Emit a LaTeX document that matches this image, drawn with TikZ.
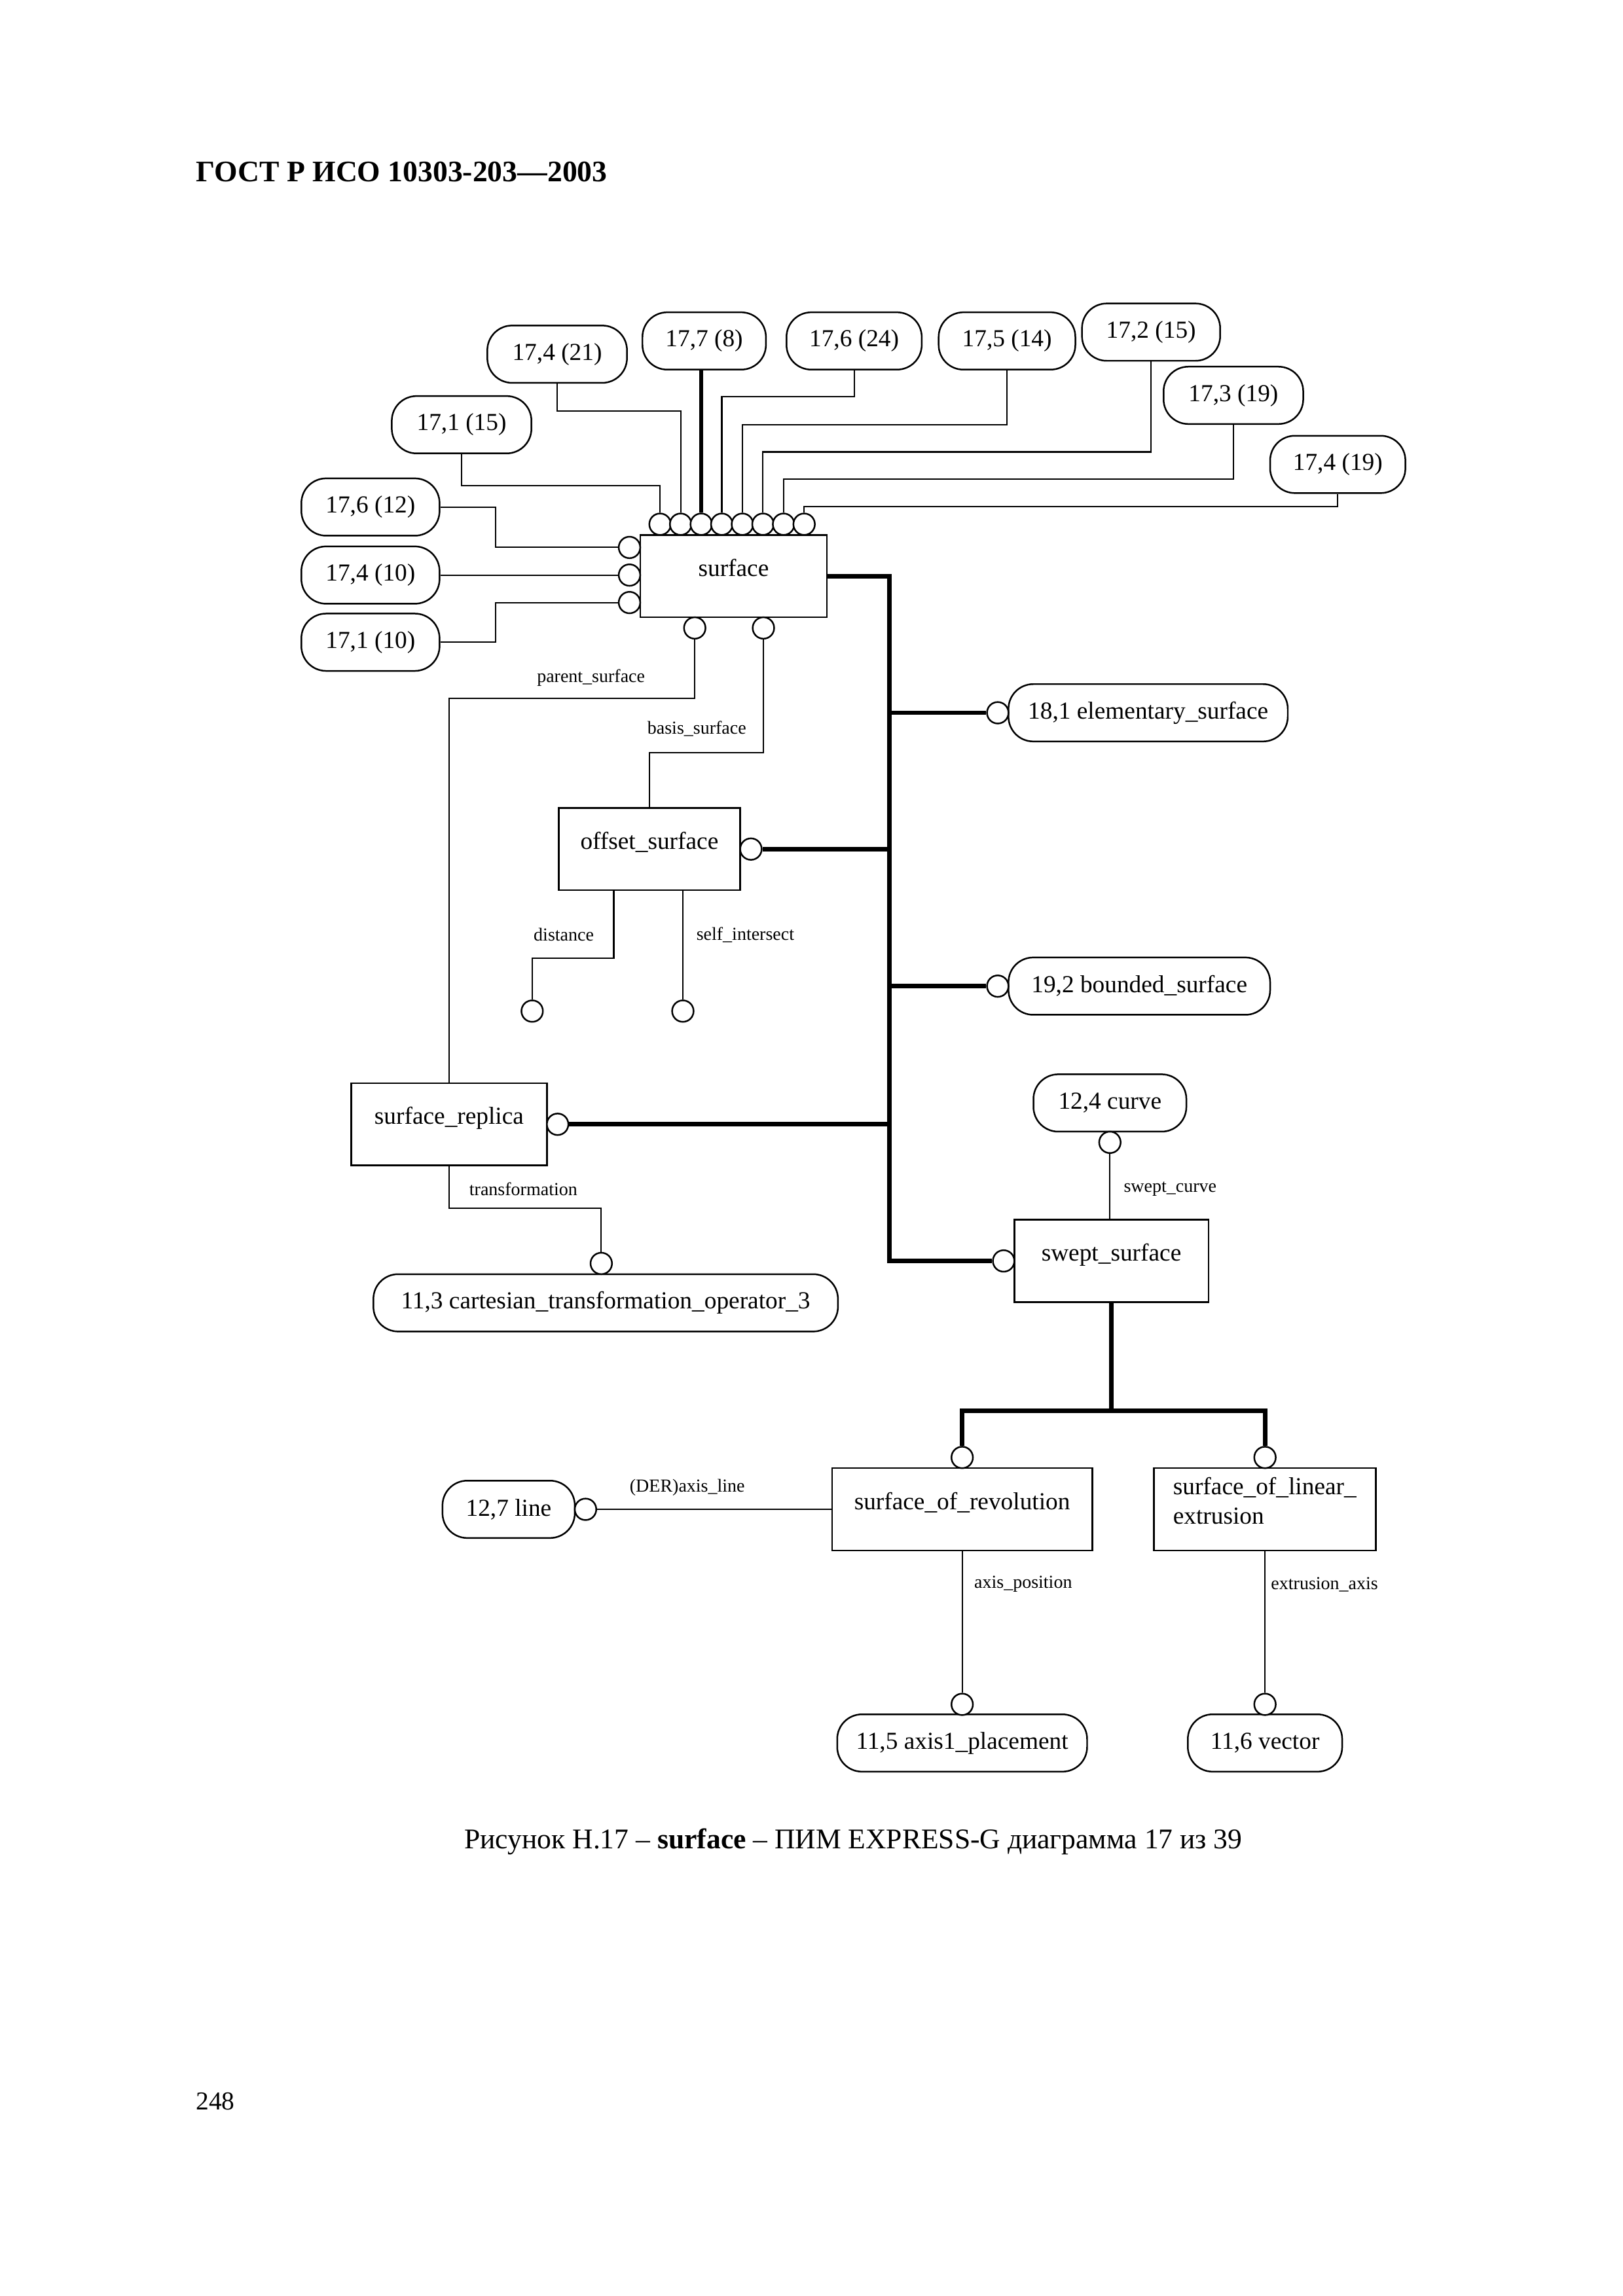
\documentclass[tikz,border=0pt]{standalone}
\usepackage{fontspec}
\setmainfont{Liberation Serif}
\def\un{0.190217mm}
\tikzset{
  entitybox/.style={draw, line width=0.6pt, minimum height=56*\un, inner sep=0pt,
    font=\fontsize{9}{10.8}\selectfont},
  entity/.style={entitybox, text height=1.6ex, text depth=1.6ex},
  typeref/.style={draw, line width=0.6pt, rounded corners=3.2mm, minimum height=39*\un,
    inner sep=0pt, font=\fontsize{9}{10.8}\selectfont},
  ring/.style={draw, circle, line width=0.6pt, minimum size=14.6*\un, inner sep=0pt, fill=white},
  attr/.style={line width=0.5pt},
  heavy/.style={line width=1.6pt},
  role/.style={inner sep=0pt, font=\fontsize{6.75}{8}\selectfont}
}
\begin{document}
\begin{tikzpicture}[x=\un, y=-\un]
\useasboundingbox (0,0) rectangle (1104,1562.3);

\node[anchor=west, inner sep=0pt, font=\bfseries\fontsize{11}{13}\selectfont] (title) at (133,117) {ГОСТ Р ИСО 10303-203—2003};

% entities
\node[entity, minimum width=127*\un] (surf) at (499,392) {surface};
\node[entity, minimum width=123.5*\un] (offs) at (441.75,577.75) {offset\_surface};
\node[entity, minimum width=133*\un] (repl) at (305.5,765) {surface\_replica};
\node[entity, minimum width=132*\un] (swpt) at (756,858) {swept\_surface};
\node[entity, minimum width=177*\un] (revo) at (654.5,1027) {surface\_of\_revolution};
\node[entitybox, minimum width=151*\un, text width=125*\un, align=left] (linx) at (860.5,1027)
  {surface\_of\_linear\_\\extrusion\rule[-6.4pt]{0pt}{6.4pt}};

% page references
\node[typeref, minimum width=95*\un] (r1) at (379,241) {17,4 (21)};
\node[typeref, minimum width=84*\un] (r2) at (479,232) {17,7 (8)};
\node[typeref, minimum width=92*\un] (r3) at (581,232) {17,6 (24)};
\node[typeref, minimum width=93*\un] (r4) at (685,232) {17,5 (14)};
\node[typeref, minimum width=94*\un] (r5) at (783,226) {17,2 (15)};
\node[typeref, minimum width=95*\un] (r6) at (839,269) {17,3 (19)};
\node[typeref, minimum width=92*\un] (r7) at (910,316) {17,4 (19)};
\node[typeref, minimum width=95*\un] (r8) at (314,289) {17,1 (15)};
\node[typeref, minimum width=94*\un] (r9) at (252,345) {17,6 (12)};
\node[typeref, minimum width=94*\un] (r10) at (252,391.3) {17,4 (10)};
\node[typeref, minimum width=94*\un] (r11) at (252,437) {17,1 (10)};
\node[typeref, minimum width=190*\un] (elem) at (781,485) {18,1 elementary\_surface};
\node[typeref, minimum width=178*\un] (bnd) at (775,671) {19,2 bounded\_surface};
\node[typeref, minimum width=104*\un] (crv) at (755,750.5) {12,4 curve};
\node[typeref, minimum width=316*\un] (cto) at (412,886.5) {11,3 cartesian\_transformation\_operator\_3};
\node[typeref, minimum width=90*\un] (lin) at (346,1027) {12,7 line};
\node[typeref, minimum width=170*\un] (axp) at (654.5,1186) {11,5 axis1\_placement};
\node[typeref, minimum width=105*\un] (vec) at (860.5,1186) {11,6 vector};

% rings
\foreach \i in {1,...,8}
  \node[ring] (t\i) at ({435+14*\i},356.7) {};
\node[ring] (l1) at (428.2,372.5) {};
\node[ring] (l2) at (428.2,391.3) {};
\node[ring] (l3) at (428.2,410) {};
\node[ring] (b1) at (472.6,427.3) {};
\node[ring] (b2) at (519.3,427.3) {};
\node[ring] (coff) at (510.8,577.75) {};
\node[ring] (cel) at (678.7,485) {};
\node[ring] (cbd) at (678.7,671) {};
\node[ring] (crep) at (379.3,765) {};
\node[ring] (cswp) at (682.7,858) {};
\node[ring] (ccv) at (755,777.3) {};
\node[ring] (ccto) at (409,859.7) {};
\node[ring] (cln) at (398.3,1027) {};
\node[ring] (crev) at (654.5,991.7) {};
\node[ring] (clin) at (860.5,991.7) {};
\node[ring] (cax) at (654.5,1159.7) {};
\node[ring] (cvec) at (860.5,1159.7) {};
\node[ring] (dist) at (362,688) {};
\node[ring] (sint) at (464.5,688) {};

% top and left links
\draw[attr] (r8.south) -- (r8.south |- 0,330.3) -| (t1.north);
\draw[attr] (r1.south) -- (r1.south |- 0,279.5) -| (t2.north);
\draw[heavy] (r2.south -| t3.north) -- (t3.north);
\draw[attr] (r3.south) -- (r3.south |- 0,270) -| (t4.north);
\draw[attr] (r4.south) -- (r4.south |- 0,289) -| (t5.north);
\draw[attr] (r5.south) -- (r5.south |- 0,307.5) -| (t6.north);
\draw[attr] (r6.south) -- (r6.south |- 0,326) -| (t7.north);
\draw[attr] (r7.south) -- (r7.south |- 0,344.5) -| (t8.north);
\draw[attr] (r9.east) -| (l1.west -| 337,0) -- (l1.west);
\draw[attr] (r10.east) -- (l2.west);
\draw[attr] (r11.east) -| (l3.west -| 337,0) -- (l3.west);

% attributes
\draw[attr] (b1.south) -- (b1.south |- 0,475) -| (repl.north);
\draw[attr] (b2.south) -- (b2.south |- 0,512) -| (offs.north);
\draw[attr] (offs.south -| 417.5,0) -- (417.5,652) -| (dist.north);
\draw[attr] (offs.south -| sint.north) -- (sint.north);
\draw[attr] (repl.south) -- (repl.south |- 0,822) -| (ccto.north);
\draw[attr] (ccv.south) -- (ccv.south |- swpt.north);
\draw[attr] (cln.east) -- (revo.west);
\draw[attr] (revo.south -| cax.north) -- (cax.north);
\draw[attr] (linx.south -| cvec.north) -- (cvec.north);

\node[role] (lps) at (402,461) {parent\_surface};
\node[role] (lbs) at (474,496) {basis\_surface};
\node[role] (ldi) at (383.5,636) {distance};
\node[role] (lsi) at (507,636) {self\_intersect};
\node[role] (ltr) at (356,809) {transformation};
\node[role] (lsc) at (796,809) {swept\_curve};
\node[role] (lax) at (467.5,1012) {(DER)axis\_line};
\node[role] (lap) at (696,1078) {axis\_position};
\node[role] (lea) at (901,1078) {extrusion\_axis};

% subtype tree
\coordinate (sp) at (605,392);
\coordinate (fork) at (756,960);
\draw[heavy] (surf.east) -- (sp) -- (sp |- cswp) -- (cswp.west);
\draw[heavy] (sp |- cel) -- (cel.west);
\draw[heavy] (sp |- coff) -- (coff.east);
\draw[heavy] (sp |- cbd) -- (cbd.west);
\draw[heavy] (sp |- crep) -- (crep.east);
\draw[heavy] (swpt.south) -- (fork);
\draw[heavy] (crev.north) |- (fork) -| (clin.north);

\node[font=\fontsize{10.5}{12}\selectfont, inner sep=0pt] (cap) at (580.5,1253)
  {Рисунок Н.17 – \textbf{surface} – ПИМ EXPRESS-G диаграмма 17 из 39};
\node[anchor=west, inner sep=0pt, font=\fontsize{9.5}{11}\selectfont] (pg) at (133,1430) {248};
\end{tikzpicture}
\end{document}
